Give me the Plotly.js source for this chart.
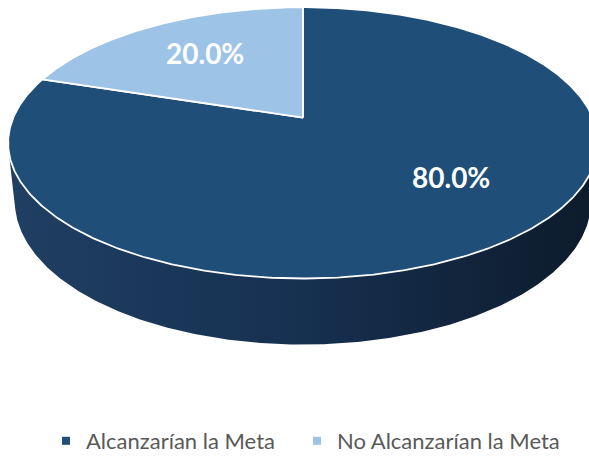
<!DOCTYPE html>
<html>
<head>
<meta charset="utf-8">
<script src="https://cdn.plot.ly/plotly-3.0.1.min.js"></script>
<style>
html, body { margin: 0; padding: 0; background: #ffffff; }
#chart { width: 589px; height: 462px; }
</style>
</head>
<body>
<div id="chart"></div>
<script>
// ---------------- data ----------------
const categories = ['Alcanzarían la Meta', 'No Alcanzarían la Meta'];
const values = [80.0, 20.0];
const labelTexts = values.map(v => v.toFixed(1) + '%');

// ---------------- style ----------------
const sliceColors = ['#1f4e79', '#9dc3e6'];
const sideScales = [
  [[0, '#1f3f63'], [0.5, '#163050'], [1, '#0d1b2b']],
  [[0, '#7fa6c9'], [1, '#4d6f8f']]
];
const W = 589, H = 462;
const cx = 303, cy = 120;          // screen position of the pie centre
const elevSin = 0.461;             // camera elevation (sine)
const dist = 4.78;                 // camera distance (pie radius = 1)
const focal = 1385;                // focal length in px
const depth = 0.2336;              // pie thickness (pie radius = 1)
const labelPos = [[451, 181], [205, 54]];   // label anchor (px)
const legendX = [46, 297];                   // legend entry left edges (px)

const se = elevSin, ce = Math.sqrt(1 - se * se);
function project(X, Y, Z) {
  const zc = dist + Y * ce - Z * se;
  const yc = Y * se + Z * ce;
  return [cx + focal * X / zc, cy - focal * yc / zc];
}
function ringPt(theta, Z) {   // theta in degrees, clockwise from 12 o'clock
  const t = theta * Math.PI / 180;
  return project(Math.sin(t), Math.cos(t), Z);
}

// slice angles (clockwise from 12 o'clock)
const total = values.reduce((a, b) => a + b, 0);
const starts = [], ends = [];
let acc = 0;
values.forEach(v => { starts.push(acc / total * 360); acc += v; ends.push(acc / total * 360); });

// visible range of the side wall
const visLim = Math.acos(-1 / (dist * ce)) * 180 / Math.PI;  // degrees
const visA = visLim, visB = 360 - visLim;

const traces = [];
// side walls
values.forEach((v, i) => {
  const a = Math.max(starts[i], visA), b = Math.min(ends[i], visB);
  if (b <= a) return;
  const xs = [], ys = [];
  const n = Math.max(2, Math.ceil((b - a) * 2));
  for (let k = 0; k <= n; k++) { const p = ringPt(a + (b - a) * k / n, 0); xs.push(p[0]); ys.push(p[1]); }
  for (let k = n; k >= 0; k--) { const p = ringPt(a + (b - a) * k / n, -depth); xs.push(p[0]); ys.push(p[1]); }
  traces.push({
    type: 'scatter', mode: 'lines', x: xs, y: ys, fill: 'toself',
    fillgradient: { type: 'horizontal', colorscale: sideScales[i] },
    line: { width: 0, color: 'rgba(0,0,0,0)' }, hoverinfo: 'skip', showlegend: false
  });
});
// top faces
values.forEach((v, i) => {
  const c = project(0, 0, 0);
  const xs = [c[0]], ys = [c[1]];
  const a = starts[i], b = ends[i];
  const n = Math.max(2, Math.ceil((b - a) * 2));
  for (let k = 0; k <= n; k++) { const p = ringPt(a + (b - a) * k / n, 0); xs.push(p[0]); ys.push(p[1]); }
  xs.push(c[0]); ys.push(c[1]);
  traces.push({
    type: 'scatter', mode: 'lines', x: xs, y: ys, fill: 'toself',
    fillcolor: sliceColors[i], line: { width: 1.8, color: '#ffffff' },
    hoverinfo: 'skip', showlegend: false
  });
});
// legend entries (one legend box per category)
categories.forEach((c, i) => {
  traces.push({
    type: 'scatter', mode: 'markers', x: [null], y: [null], name: c,
    legend: i === 0 ? 'legend' : 'legend' + (i + 1),
    marker: { symbol: 'square', size: 8, color: sliceColors[i] }, showlegend: true
  });
});

const annotations = labelTexts.map((t, i) => ({
  x: labelPos[i][0], y: labelPos[i][1], xref: 'x', yref: 'y', text: t, showarrow: false,
  font: { family: 'Lato', size: 28, color: '#ffffff', weight: 700 },
  xanchor: 'center', yanchor: 'middle'
}));

function legendBox(px) {
  return {
    orientation: 'h', x: px / W, xanchor: 'left', y: 1 - 450 / H, yanchor: 'middle',
    font: { family: 'Lato', size: 22, color: '#595959' },
    bgcolor: 'rgba(0,0,0,0)', itemclick: false, itemdoubleclick: false
  };
}

const layout = {
  width: W, height: H,
  margin: { l: 0, r: 0, t: 0, b: 0, pad: 0 },
  paper_bgcolor: '#ffffff', plot_bgcolor: '#ffffff',
  xaxis: { range: [0, W], visible: false, fixedrange: true },
  yaxis: { range: [H, 0], visible: false, fixedrange: true },
  showlegend: true,
  legend: legendBox(legendX[0]),
  legend2: legendBox(legendX[1]),
  annotations: annotations,
  hovermode: false
};

Plotly.newPlot('chart', traces, layout, { displayModeBar: false, staticPlot: true });
</script>
</body>
</html>
